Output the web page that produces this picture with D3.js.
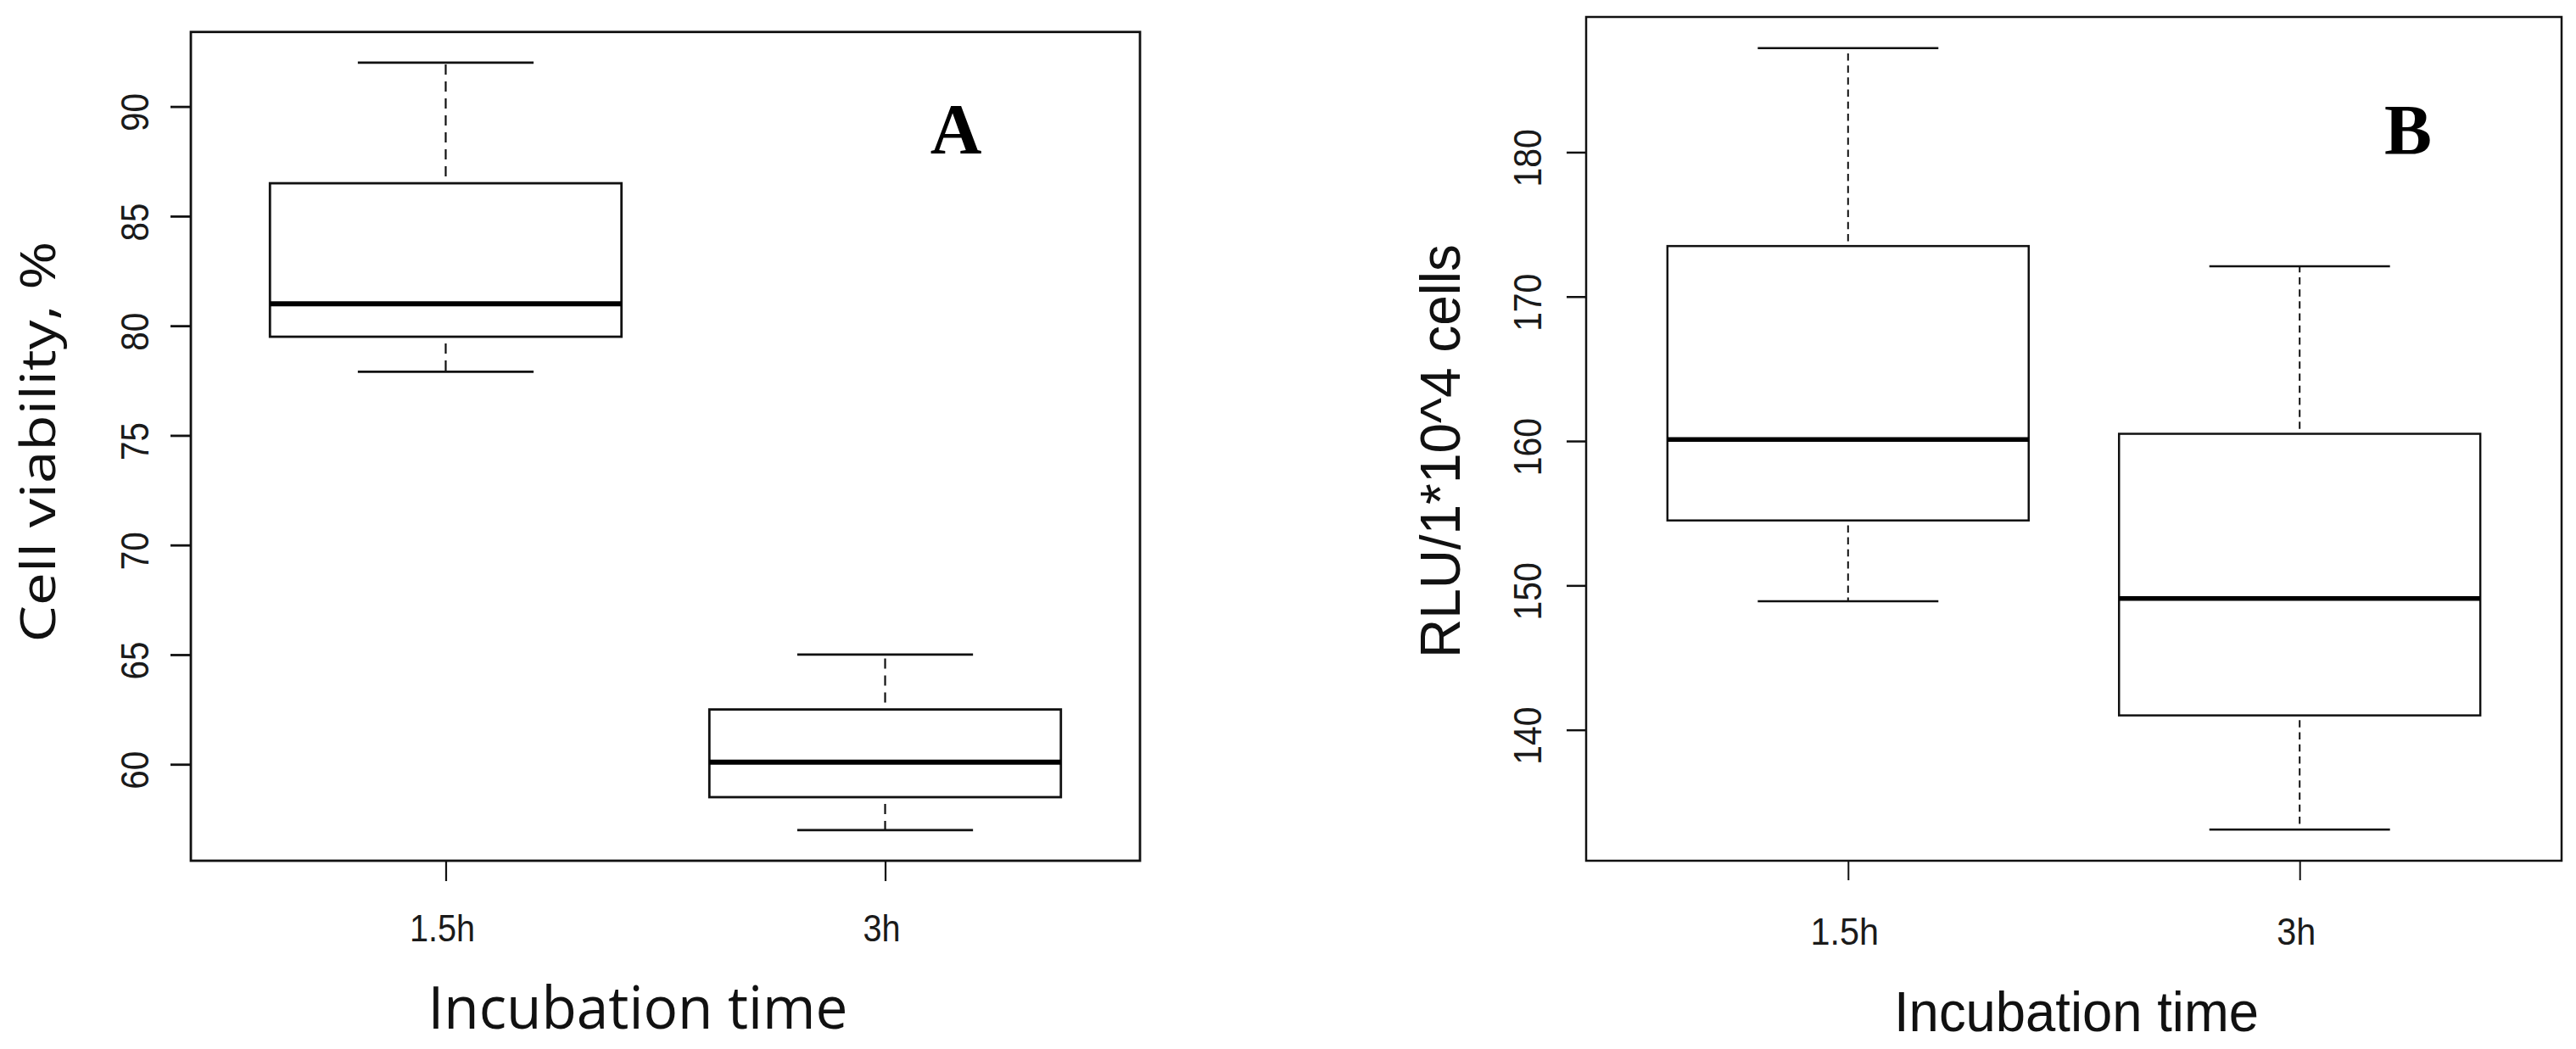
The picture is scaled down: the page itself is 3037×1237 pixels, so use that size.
<!DOCTYPE html>
<html>
<head>
<meta charset="utf-8">
<script src="https://cdn.jsdelivr.net/npm/d3@7"></script>
<style>
  html, body { margin: 0; padding: 0; background: #fff; }
  svg { display: block; }
</style>
</head>
<body>
<svg id="chart" width="3037" height="1237"></svg>
<script>
// ---------- data ----------
const categories = ["1.5h", "3h"];

// Panel A: cell viability, %
const viabilityMin    = [77.9, 57.0];
const viabilityQ1     = [79.5, 58.5];
const viabilityMedian = [81.0, 60.1];
const viabilityQ3     = [86.5, 62.5];
const viabilityMax    = [92.0, 65.0];
const viabilityTicks  = [60, 65, 70, 75, 80, 85, 90];

// Panel B: RLU / 1*10^4 cells
const rluMin    = [148.9, 133.1];
const rluQ1     = [154.5, 141.0];
const rluMedian = [160.1, 149.1];
const rluQ3     = [173.5, 160.5];
const rluMax    = [187.2, 172.1];
const rluTicks  = [140, 150, 160, 170, 180];

const xTitle = "Incubation time";

// ---------- drawing ----------
const svg = d3.select("#chart");

function condense(sel, factor) {
  sel.each(function () {
    const n = this.getComputedTextLength();
    d3.select(this).attr("textLength", n * factor).attr("lengthAdjust", "spacingAndGlyphs");
  });
}

function drawPanel(cfg) {
  const g = svg.append("g");
  const n = categories.length;
  const stats = categories.map((c, i) => ({
    cat: c, i: i + 1,
    min: cfg.min[i], q1: cfg.q1[i], med: cfg.med[i], q3: cfg.q3[i], max: cfg.max[i]
  }));

  // R-style range extension by 4%
  const lo = d3.min(cfg.min), hi = d3.max(cfg.max);
  const pad = (hi - lo) * 0.04;
  const y = d3.scaleLinear().domain([lo - pad, hi + pad]).range([cfg.bottom, cfg.top]);
  const xpad = n * 0.04;
  const x = d3.scaleLinear().domain([0.5 - xpad, n + 0.5 + xpad]).range([cfg.left, cfg.right]);

  const boxHalf = 0.4, capHalf = 0.2;

  // whiskers (dashed)
  const wh = g.append("g").attr("stroke", "#111").attr("stroke-width", cfg.dashW)
    .attr("stroke-dasharray", cfg.dash).attr("stroke-dashoffset", cfg.dashOffset).attr("fill", "none");
  wh.selectAll("line.up").data(stats).join("line").attr("class", "up")
    .attr("x1", d => x(d.i)).attr("x2", d => x(d.i))
    .attr("y1", d => y(d.q3)).attr("y2", d => y(d.max));
  wh.selectAll("line.dn").data(stats).join("line").attr("class", "dn")
    .attr("x1", d => x(d.i)).attr("x2", d => x(d.i))
    .attr("y1", d => y(d.q1)).attr("y2", d => y(d.min));

  // staples
  const st = g.append("g").attr("stroke", "#111").attr("stroke-width", cfg.lineW);
  st.selectAll("line.max").data(stats).join("line").attr("class", "max")
    .attr("x1", d => x(d.i - capHalf)).attr("x2", d => x(d.i + capHalf))
    .attr("y1", d => y(d.max)).attr("y2", d => y(d.max));
  st.selectAll("line.min").data(stats).join("line").attr("class", "min")
    .attr("x1", d => x(d.i - capHalf)).attr("x2", d => x(d.i + capHalf))
    .attr("y1", d => y(d.min)).attr("y2", d => y(d.min));

  // boxes
  g.append("g").selectAll("rect").data(stats).join("rect")
    .attr("x", d => x(d.i - boxHalf)).attr("width", d => x(d.i + boxHalf) - x(d.i - boxHalf))
    .attr("y", d => y(d.q3)).attr("height", d => y(d.q1) - y(d.q3))
    .attr("fill", "none").attr("stroke", "#111").attr("stroke-width", cfg.lineW);

  // medians
  g.append("g").selectAll("line").data(stats).join("line")
    .attr("x1", d => x(d.i - boxHalf)).attr("x2", d => x(d.i + boxHalf))
    .attr("y1", d => y(d.med)).attr("y2", d => y(d.med))
    .attr("stroke", "#000").attr("stroke-width", cfg.medW);

  // frame
  g.append("rect")
    .attr("x", cfg.left).attr("y", cfg.top)
    .attr("width", cfg.right - cfg.left).attr("height", cfg.bottom - cfg.top)
    .attr("fill", "none").attr("stroke", "#111").attr("stroke-width", cfg.frameW);

  // y axis ticks
  const yAxis = d3.axisLeft(y).tickValues(cfg.ticks).tickSize(cfg.tickLen).tickFormat("");
  const ya = g.append("g").attr("transform", `translate(${cfg.left},0)`).call(yAxis);
  ya.select(".domain").remove();
  ya.selectAll(".tick line").attr("stroke", "#111").attr("stroke-width", cfg.lineW);

  // y tick labels (rotated, parallel to axis)
  const yl = g.append("g").selectAll("text").data(cfg.ticks).join("text")
    .attr("transform", d => `translate(${cfg.yLabX},${y(d) + 7}) rotate(-90)`)
    .attr("text-anchor", "middle")
    .attr("font-family", "'Liberation Sans', Arial, sans-serif")
    .attr("font-size", cfg.tickFont).attr("fill", "#1a1a1a")
    .text(d => d);
  condense(yl, cfg.yCond);

  // x axis ticks
  const xAxis = d3.axisBottom(x).tickValues(stats.map(d => d.i)).tickSize(cfg.tickLen).tickFormat("");
  const xa = g.append("g").attr("transform", `translate(0,${cfg.bottom})`).call(xAxis);
  xa.select(".domain").remove();
  xa.selectAll(".tick line").attr("stroke", "#111").attr("stroke-width", cfg.lineW * 0.8);

  const xl = g.append("g").selectAll("text").data(stats).join("text")
    .attr("x", d => x(d.i) - 4).attr("y", cfg.xLabY)
    .attr("text-anchor", "middle")
    .attr("font-family", "'Liberation Sans', Arial, sans-serif")
    .attr("font-size", cfg.xTickFont).attr("fill", "#1a1a1a")
    .text(d => d.cat);
  condense(xl, cfg.xCond);

  // axis titles
  g.append("text")
    .attr("x", cfg.xTitleX).attr("y", cfg.xTitleY).attr("text-anchor", "middle")
    .attr("font-family", cfg.titleFamily).attr("font-size", cfg.titleSize).attr("fill", "#111")
    .attr("textLength", cfg.xTitleLen).attr("lengthAdjust", "spacingAndGlyphs")
    .text(xTitle);

  g.append("text")
    .attr("transform", `translate(${cfg.yTitleX},${cfg.yTitleY}) rotate(-90)`)
    .attr("text-anchor", "middle")
    .attr("font-family", cfg.titleFamily).attr("font-size", cfg.yTitleSize).attr("fill", "#111")
    .attr("textLength", cfg.yTitleLen).attr("lengthAdjust", "spacingAndGlyphs")
    .text(cfg.yTitle);

  // panel letter
  g.append("text")
    .attr("x", cfg.letterX).attr("y", cfg.letterY).attr("text-anchor", "middle")
    .attr("font-family", "'Liberation Serif', 'Times New Roman', serif")
    .attr("font-weight", "bold").attr("font-size", 84).attr("fill", "#000")
    .text(cfg.letter);
}

drawPanel({
  min: viabilityMin, q1: viabilityQ1, med: viabilityMedian, q3: viabilityQ3, max: viabilityMax,
  ticks: viabilityTicks,
  left: 225, right: 1344, top: 37.7, bottom: 1015,
  lineW: 2.8, medW: 6, frameW: 2.8, dashW: 2.2, dash: "12 8", dashOffset: 12,
  tickLen: 24, tickFont: 46, yLabX: 175, yCond: 0.88,
  xTickFont: 44, xLabY: 1110, xCond: 0.9,
  titleFamily: "'Open Sans', sans-serif", titleSize: 70,
  xTitleX: 752, xTitleY: 1213, xTitleLen: 495,
  yTitle: "Cell viability, %", yTitleSize: 57, yTitleX: 65, yTitleY: 521, yTitleLen: 473,
  letter: "A", letterX: 1127, letterY: 181
});

drawPanel({
  min: rluMin, q1: rluQ1, med: rluMedian, q3: rluQ3, max: rluMax,
  ticks: rluTicks,
  left: 1870, right: 3020, top: 20, bottom: 1015,
  lineW: 2.5, medW: 5.5, frameW: 2.5, dashW: 2, dash: "8.5 5.7", dashOffset: 8.5,
  tickLen: 23, tickFont: 47, yLabX: 1817, yCond: 0.87,
  xTickFont: 44, xLabY: 1114, xCond: 0.94,
  titleFamily: "'Liberation Sans', Arial, sans-serif", titleSize: 66,
  xTitleX: 2448, xTitleY: 1216, xTitleLen: 430,
  yTitle: "RLU/1*10^4 cells", yTitleSize: 66, yTitleX: 1721, yTitleY: 532, yTitleLen: 488,
  letter: "B", letterX: 2839, letterY: 182
});
</script>
</body>
</html>
